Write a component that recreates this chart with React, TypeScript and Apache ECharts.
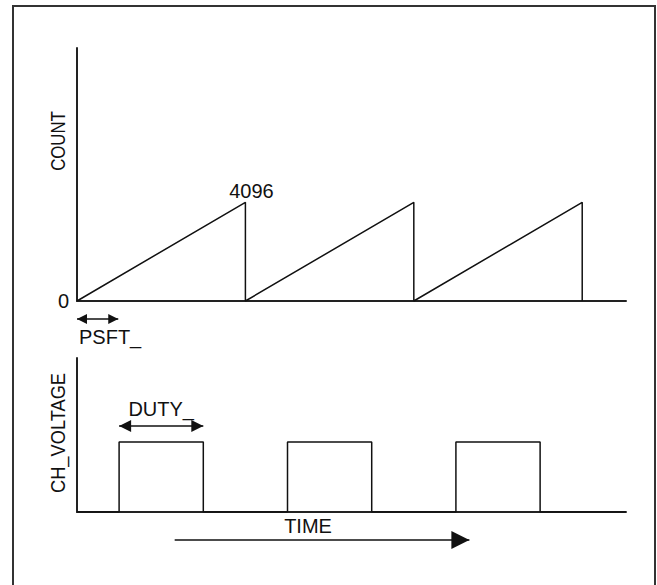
import React, { useEffect, useRef } from 'react';
import * as echarts from 'echarts';

// Time axis in units of one counter period
const timeMax = 3.26;
// COUNT sawtooth: [time, count]
const countPoints: [number, number][] = [
  [0, 0], [1, 4096], [1, 0], [2, 4096], [2, 0], [3, 4096], [3, 0],
];
const countMax = 10500;
const countTickLabels = [0];
const peakLabel = '4096';
// CH_VOLTAGE pulses: [time, level]
const voltagePoints: [number, number][] = [
  [0, 0], [0.25, 0], [0.25, 1], [0.75, 1], [0.75, 0],
  [1.25, 0], [1.25, 1], [1.75, 1], [1.75, 0],
  [2.25, 0], [2.25, 1], [2.75, 1], [2.75, 0], [3.26, 0],
];
const voltageMax = 2.2;
// Annotation spans
const psftSpan = [0, 0.245];
const dutySpan = [0.25, 0.75];
const dutyLevel = 1.23;
const timeSpan = [0.58, 2.33];

const FONT = '"Liberation Sans", Arial, sans-serif';
const INK = '#111';

export default function App() {
  const ref = useRef<HTMLDivElement>(null);
  useEffect(() => {
    document.body.style.margin = '0';
    const chart = echarts.init(ref.current!, null, { renderer: 'svg' });
    const hiddenX = (gridIndex: number) => ({
      type: 'value', gridIndex, min: 0, max: timeMax,
      axisLine: { show: false }, axisTick: { show: false }, axisLabel: { show: false }, splitLine: { show: false },
    });
    const shownX = (gridIndex: number) => ({
      type: 'value', gridIndex, min: 0, max: timeMax,
      axisLine: { show: true, onZero: false, lineStyle: { color: '#222', width: 2 } },
      axisTick: { show: false }, axisLabel: { show: false }, splitLine: { show: false },
    });
    const textStyle = { color: INK, fontSize: 20, fontFamily: FONT };
    const arrowLine = (sym: any, size: number, label: any, from: number[], to: number[]) => ({
      silent: true,
      symbol: sym,
      symbolSize: [size, size],
      symbolOffset: [[0, size / 2], [0, size / 2]],
      lineStyle: { color: INK, width: 1.5, type: 'solid' },
      label,
      emphasis: { disabled: true },
      data: [[{ coord: from }, { coord: to }]],
    });
    chart.setOption({
      animation: false,
      backgroundColor: '#fff',
      grid: [
        { left: 77, top: 48, width: 549, height: 253 },
        { left: 77, top: 358, width: 549, height: 154 },
        { left: 77, top: 309, width: 549, height: 20 },
        { left: 77, top: 530, width: 549, height: 20 },
      ],
      xAxis: [shownX(0), shownX(1), hiddenX(2), hiddenX(3)],
      yAxis: [
        {
          type: 'value', gridIndex: 0, min: 0, max: countMax,
          axisLine: { show: true, lineStyle: { color: '#222', width: 2 } },
          axisTick: { show: false }, splitLine: { show: false },
          axisLabel: {
            ...textStyle, margin: 8,
            formatter: (v: number) => (countTickLabels.includes(v) ? String(v) : ''),
          },
        },
        {
          type: 'value', gridIndex: 1, min: 0, max: voltageMax,
          axisLine: { show: true, lineStyle: { color: '#222', width: 2 } },
          axisTick: { show: false }, splitLine: { show: false }, axisLabel: { show: false },
        },
        { type: 'value', gridIndex: 2, min: 0, max: 1, show: false },
        { type: 'value', gridIndex: 3, min: 0, max: 1, show: false },
      ],
      series: [
        {
          type: 'line', xAxisIndex: 0, yAxisIndex: 0,
          data: countPoints.map((p, i) => (i === 1
            ? { value: p, label: { show: true, formatter: peakLabel, position: 'top', distance: 1, offset: [6, 0], ...textStyle } }
            : { value: p })),
          symbol: 'circle', symbolSize: 0, showSymbol: true,
          lineStyle: { color: INK, width: 1.5 },
          itemStyle: { color: INK },
          emphasis: { disabled: true },
        },
        {
          type: 'line', xAxisIndex: 1, yAxisIndex: 1,
          data: voltagePoints,
          symbol: 'none',
          lineStyle: { color: INK, width: 1.5 },
          emphasis: { disabled: true },
          markLine: arrowLine(['triangle', 'triangle'], 12,
            { show: true, formatter: 'DUTY_', position: 'middle', distance: 7, ...textStyle },
            [dutySpan[0], dutyLevel], [dutySpan[1], dutyLevel]),
        },
        {
          type: 'line', xAxisIndex: 2, yAxisIndex: 2, data: [],
          markLine: arrowLine(['triangle', 'triangle'], 10,
            { show: true, formatter: 'PSFT_', position: 'insideStartBottom', distance: 8, offset: [-6, 0], ...textStyle },
            [psftSpan[0], 0.5], [psftSpan[1], 0.5]),
        },
        {
          type: 'line', xAxisIndex: 3, yAxisIndex: 3, data: [],
          markLine: arrowLine(['none', 'triangle'], 18,
            { show: true, formatter: 'TIME', position: 'insideMiddleTop', distance: 4, offset: [-14, 0], ...textStyle },
            [timeSpan[0], 0.5], [timeSpan[1], 0.5]),
        },
      ],
      graphic: [
        {
          type: 'rect', silent: true, z: 100,
          shape: { x: 13, y: 6, width: 642, height: 590 },
          style: { fill: 'none', stroke: '#333', lineWidth: 2 },
        },
        {
          type: 'text', x: 58, y: 141, rotation: Math.PI / 2, scaleX: 0.8, silent: true,
          style: { text: 'COUNT', ...textStyle, fontSize: 21, fill: INK, align: 'center', verticalAlign: 'middle' },
        },
        {
          type: 'text', x: 58, y: 433, rotation: Math.PI / 2, scaleX: 0.87, silent: true,
          style: { text: 'CH_VOLTAGE', ...textStyle, fontSize: 21, fill: INK, align: 'center', verticalAlign: 'middle' },
        },
      ],
    });
    return () => chart.dispose();
  }, []);
  return <div ref={ref} style={{ width: 657, height: 585 }} />;
}
